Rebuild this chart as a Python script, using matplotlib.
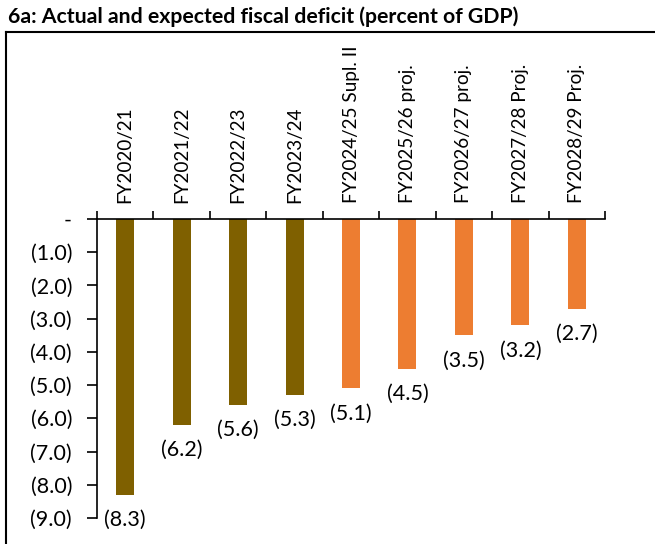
import matplotlib as mpl
import matplotlib.pyplot as plt
from matplotlib.lines import Line2D

mpl.rcParams['font.family'] = ['Lato', 'DejaVu Sans']

categories = ['FY2020/21', 'FY2021/22', 'FY2022/23', 'FY2023/24',
              'FY2024/25 Supl. II', 'FY2025/26 proj.', 'FY2026/27 proj.',
              'FY2027/28 Proj.', 'FY2028/29 Proj.']
deficit = [-8.3, -6.2, -5.6, -5.3, -5.1, -4.5, -3.5, -3.2, -2.7]
actual_color = '#7F6000'
proj_color = '#ED7D31'
colors = [actual_color] * 4 + [proj_color] * 5

W, H = 655, 544
fig = plt.figure(figsize=(W / 100, H / 100), dpi=100)

# outer frame (left and top edges visible)
fig.add_artist(Line2D([6 / W, 6 / W], [0, 1 - 32 / H], color='k', lw=1.5))
fig.add_artist(Line2D([6 / W, 1], [1 - 32 / H, 1 - 32 / H], color='k', lw=1.5))
fig.text(8 / W, 1 - 17 / H, '6a: Actual and expected fiscal deficit (percent of GDP)',
         fontsize=15.3, fontweight='bold', va='center', ha='left')

ax = fig.add_axes([97 / W, 1 - 518 / H, (605 - 97) / W, (518 - 219) / H])
x = list(range(len(categories)))
ax.bar(x, deficit, width=0.32, color=colors)
ax.set_xlim(-0.5, len(categories) - 0.5)
ax.set_ylim(-9, 0)

for s in ['right', 'bottom']:
    ax.spines[s].set_visible(False)
ax.spines['left'].set_linewidth(1.2)
ax.spines['top'].set_linewidth(1.2)

ax.set_yticks([-i for i in range(10)])
ax.set_yticklabels(['-'] + ['(%.1f)' % i for i in range(1, 10)], fontsize=15.5)
ax.tick_params(axis='y', length=7, width=1.2, pad=11)

# category labels above the axis, ticks between categories
ax.xaxis.tick_top()
ax.set_xticks([i + 0.5 for i in range(-1, len(categories))])
ax.tick_params(axis='x', length=6, width=1.2, labeltop=False)
for i, c in enumerate(categories):
    ax.text(i, 0.48, c, rotation=90, ha='center', va='bottom', fontsize=13.6)

for i, v in enumerate(deficit):
    ax.annotate('(%.1f)' % abs(v), (i, v), xytext=(0, -11), textcoords='offset points',
                ha='center', va='top', fontsize=15.5)

fig.savefig('out.png', dpi=100)
